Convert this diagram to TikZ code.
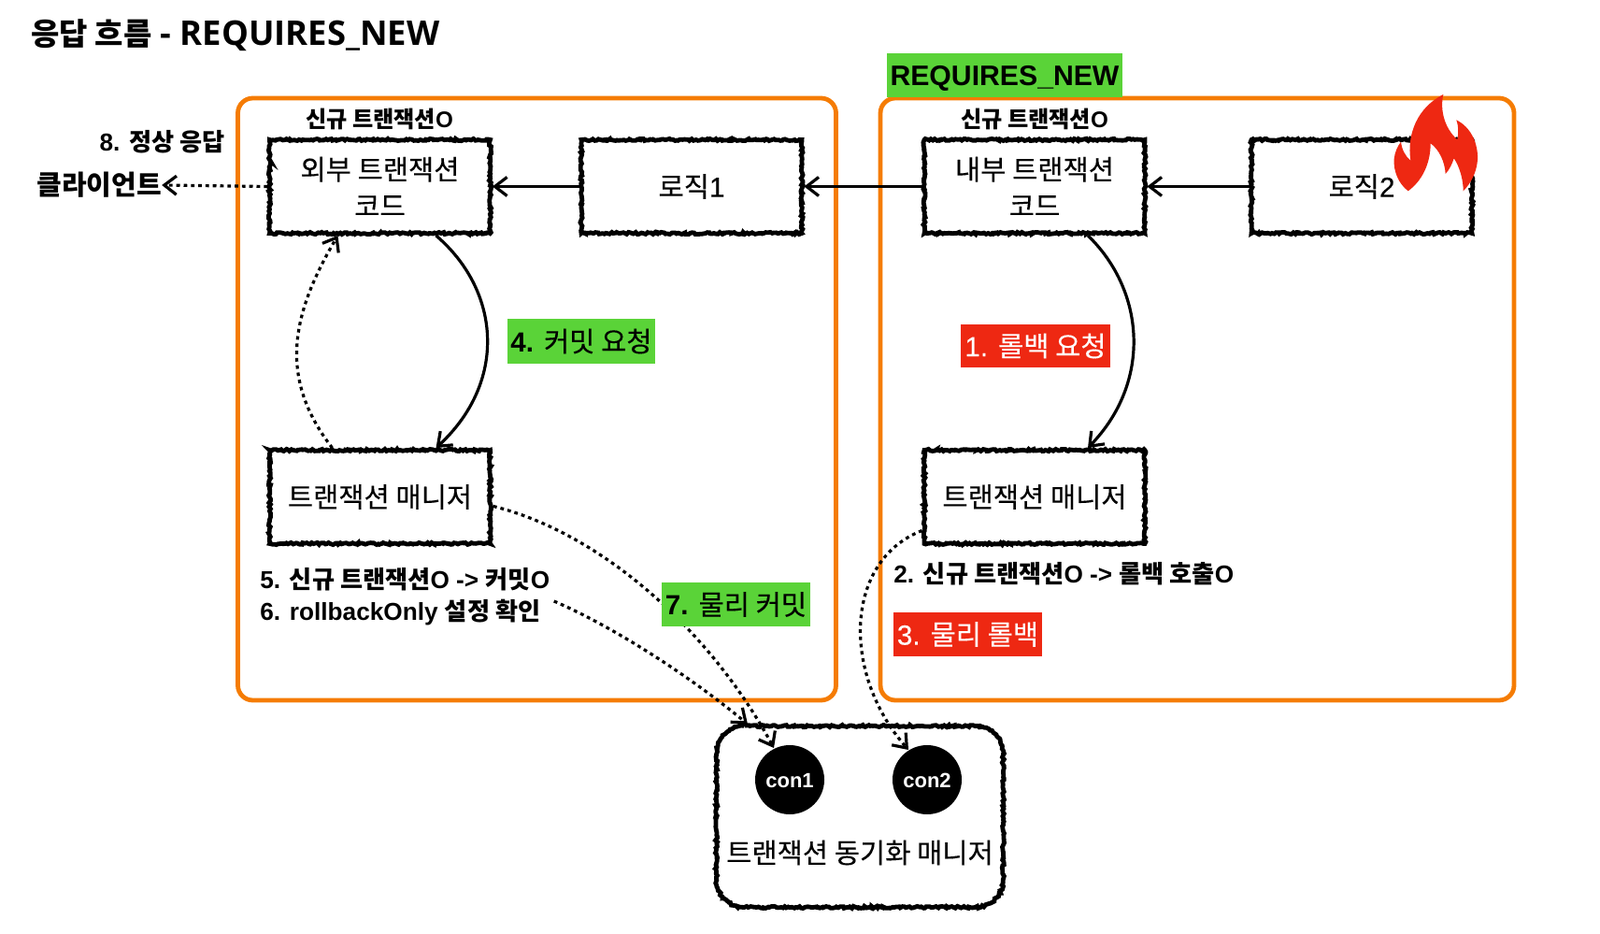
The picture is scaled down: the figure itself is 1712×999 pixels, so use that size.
\documentclass[tikz,border=0pt]{standalone}
\usepackage{fontspec}
\setmainfont{Liberation Sans}
\newfontfamily\kr{Noto Sans CJK KR}
\newfontfamily\krm[FakeBold=0.2]{Noto Sans CJK KR}
\newfontfamily\latm[FakeBold=0.3]{Liberation Sans}
\newfontfamily\titlefont{Open Sans}
\newcommand{\K}[1]{{\kr #1}}
\newcommand{\M}[1]{{\krm #1}}
\newcommand{\Lm}[1]{{\latm #1}}
\usetikzlibrary{arrows.meta,decorations.pathmorphing,calc}
\definecolor{myorange}{RGB}{245,124,4}
\definecolor{mygreen}{RGB}{90,211,56}
\definecolor{myred}{RGB}{238,40,18}
\tikzset{
  x=0.5pt,y=-0.5pt,
  rough/.style={draw=black,line width=2.4pt,decorate,decoration={random steps,segment length=1pt,amplitude=0.55pt}},
  sketchbox/.style={rough,fill=white,inner sep=0pt,minimum width=118pt,minimum height=50pt,
    align=center,font=\fontsize{14.8}{19.5}\selectfont,text=black},
  groupbox/.style={draw=myorange,line width=2.4pt,rounded corners=8pt,inner sep=0pt},
  tag/.style={inner sep=0pt,font=\fontsize{14.8}{17}\selectfont},
  note/.style={inner sep=0pt,font=\bfseries\fontsize{13.1}{16}\selectfont,text=black},
  headnote/.style={note,font=\bfseries\fontsize{12.1}{15}\selectfont},
  conn/.style={line width=1.6pt,-{Straight Barb[length=6.5pt,width=10pt,line width=1.6pt]}},
  dots/.style={conn,dash pattern=on 1.9pt off 2pt},
  disk/.style={circle,fill=black,text=white,minimum size=37pt,inner sep=0pt,text height=8pt,text depth=0pt,font=\bfseries\fontsize{11}{13}\selectfont}
}
\begin{document}
\begin{tikzpicture}
\useasboundingbox (0,0) rectangle (1712,999);
% groups
\node[groupbox,minimum width=320pt,minimum height=322pt] (gl) at (574.5,427) {};
\node[groupbox,minimum width=339pt,minimum height=322pt] (gr) at (1281,427) {};
% boxes
\node[sketchbox] (outer) at (406.5,199.5) {\M{외부 트랜잭션}\\\M{코드}};
\node[sketchbox] (logic1) at (740,199.5) {\M{로직}\Lm{1}};
\node[sketchbox] (inner) at (1107,199.5) {\M{내부 트랜잭션}\\\M{코드}};
\node[sketchbox] (logic2) at (1457,199.5) {\M{로직}\Lm{2}};
\node[sketchbox] (tml) at (406.5,531.5) {\M{트랜잭션 매니저}};
\node[sketchbox] (tmr) at (1107,531.5) {\M{트랜잭션 매니저}};
\node[inner sep=0pt,minimum width=153pt,minimum height=96.5pt] (sync) at (920,873.5) {};
\draw[rough,fill=white]
  ($(sync.north west)+(30,0)$) -- ($(sync.north east)+(-30,0)$)
  .. controls ($(sync.north east)+(-13,0)$) and ($(sync.north east)+(0,13)$) .. ($(sync.north east)+(0,30)$)
  -- ($(sync.south east)+(0,-30)$)
  .. controls ($(sync.south east)+(0,-13)$) and ($(sync.south east)+(-13,0)$) .. ($(sync.south east)+(-30,0)$)
  -- ($(sync.south west)+(30,0)$)
  .. controls ($(sync.south west)+(13,0)$) and ($(sync.south west)+(0,-13)$) .. ($(sync.south west)+(0,-30)$)
  -- ($(sync.north west)+(0,30)$)
  .. controls ($(sync.north west)+(0,13)$) and ($(sync.north west)+(13,0)$) .. ($(sync.north west)+(30,0)$) -- cycle;
\node[disk] (con1) at (845,834) {con1};
\node[disk] (con2) at (992,834) {con2};
\node[inner sep=0pt,font=\fontsize{14.8}{17}\selectfont] (synctext) at (920,912) {\M{트랜잭션 동기화 매니저}};
% plain texts
\node[anchor=west,inner sep=0pt,font=\bfseries\fontsize{16.5}{20}\selectfont] (title) at (33,38) {\K{응답 흐름} {\titlefont\bfseries\fontsize{18.2}{20}\selectfont - REQUIRES\_NEW}};
\node[headnote] (newl) at (406,127) {\K{신규 트랜잭션}O};
\node[headnote] (newr) at (1107,127) {\K{신규 트랜잭션}O};
\node[note,anchor=east] (ok) at (241,152) {8. \K{정상 응답}};
\node[anchor=west,inner sep=0pt,font=\bfseries\fontsize{14.5}{17}\selectfont] (client) at (39,198) {\K{클라이언트}};
\node[note,anchor=west] (t5) at (278,620) {5. \K{신규 트랜잭션}O -> \K{커밋}O};
\node[note,anchor=west] (t6) at (278,655) {6. rollbackOnly \K{설정 확인}};
\node[note,anchor=west] (t2) at (956,614) {2. \K{신규 트랜잭션}O -> \K{롤백 호출}O};
% connectors
\draw[conn] (logic1.west) -- (outer.east);
\draw[conn] (inner.west) -- (logic1.east);
\draw[conn] (logic2.west) -- (inner.east);
\draw[conn] ($(outer.south)+(60,0)$) .. controls +(70,60) and +(76,-70) .. ($(tml.north)+(60,0)$);
\draw[conn] ($(inner.south)+(57,0)$) .. controls +(62,60) and +(68,-70) .. ($(tmr.north)+(57,0)$);
\draw[dots] (outer.west) -- (client.east);
\draw[dots] ($(tml.north)+(-51,0)$) .. controls +(-58,-75) and +(-50,85) .. ($(outer.south)+(-45,0)$);
\coordinate (con1top) at ($(con1)+(-17,-34)$);
\coordinate (con2top) at ($(con2)+(-20,-32)$);
\coordinate (t6end) at ($(t6.east)+(14,-12)$);
\coordinate (syncin) at ($(sync.north)+(-120,-2)$);
\draw[dots] ($(tml.east)+(1,10)$) .. controls +(113,28) and +(-70,-129) .. (con1top);
\draw[dots] (t6end) .. controls +(65,28) and +(-60,-50) .. (syncin);
\draw[dots] ($(tmr.west)+(0,36)$) .. controls +(-83,32) and +(-72,-82) .. (con2top);
% colour tags, over the connectors
\node[tag,fill=mygreen,text=black,minimum width=126pt,minimum height=23.5pt,text height=10.8pt,text depth=0pt] (rn) at (1075,80.5) {\bfseries\fontsize{15.1}{17}\selectfont REQUIRES\_NEW};
\node[tag,fill=mygreen,text=black,minimum width=79pt,minimum height=24pt] (t4) at (622,365) {\textbf{4.} \M{커밋 요청}};
\node[tag,fill=myred,text=white,minimum width=80pt,minimum height=23pt] (t1) at (1108,370) {\Lm{1.} \M{롤백 요청}};
\node[tag,fill=mygreen,text=black,minimum width=79.5pt,minimum height=23.5pt] (t7) at (787.5,646.5) {\textbf{7.} \M{물리 커밋}};
\node[tag,fill=myred,text=white,minimum width=79.5pt,minimum height=23.5pt] (t3) at (1035.5,678.5) {\Lm{3.} \M{물리 롤백}};
% flame
\begin{scope}[shift={(1300,80)},x=0.16667pt,y=-0.16667pt]
\fill[myred] (733,63) .. controls (722,110) and (735,170) .. (778,208)
  .. controls (782,185) and (782,165) .. (775,145)
  .. controls (825,170) and (845,225) .. (843,272)
  .. controls (840,315) and (820,350) .. (797,373)
  .. controls (797,335) and (785,295) .. (767,268)
  .. controls (762,285) and (752,305) .. (740,318)
  .. controls (738,280) and (720,240) .. (692,220)
  .. controls (692,285) and (665,340) .. (620,373)
  .. controls (590,350) and (572,310) .. (575,270)
  .. controls (577,250) and (585,230) .. (597,215)
  .. controls (600,240) and (610,260) .. (628,275)
  .. controls (615,190) and (650,105) .. (733,63) -- cycle;
\end{scope}
\end{tikzpicture}
\end{document}
